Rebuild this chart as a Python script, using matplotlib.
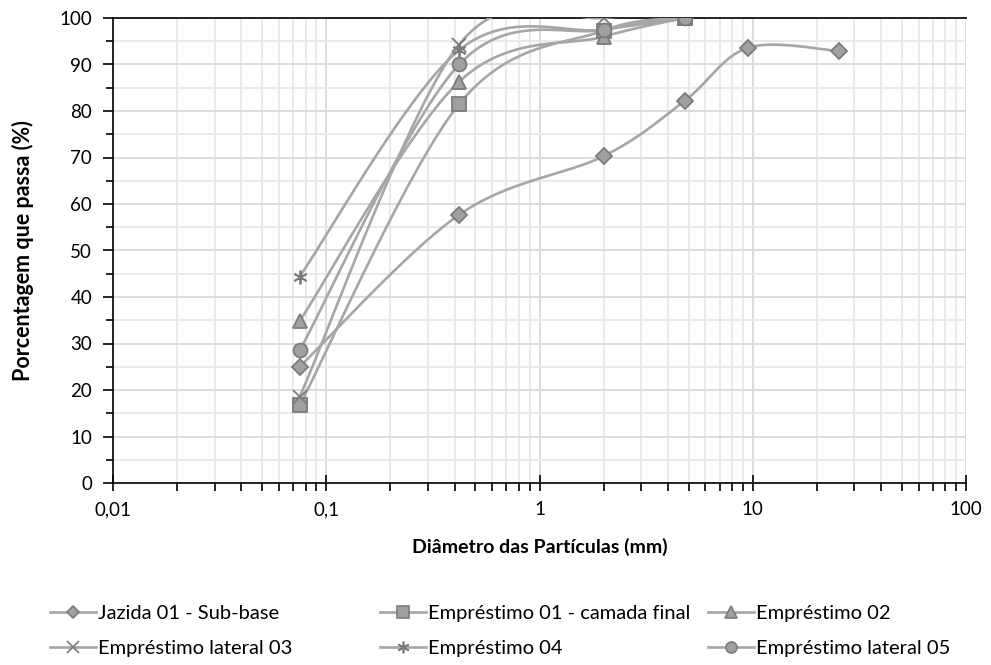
import numpy as np
import matplotlib.pyplot as plt
from matplotlib.lines import Line2D
from matplotlib.ticker import FixedLocator, LogLocator, FuncFormatter, MultipleLocator

plt.rcParams['font.family'] = ['Lato', 'DejaVu Sans']

# sieve openings (mm) and percent passing for each sample
sieves = [0.075, 0.42, 2.0, 4.8, 9.5, 25.4]

jazida_01 = [25.0, 57.7, 70.3, 82.2, 93.6, 92.9]
emprestimo_01 = [16.7, 81.5, 97.3, 100.0]
emprestimo_02 = [34.8, 86.3, 96.0, 100.0]
lateral_03 = [18.5, 94.3, 100.0, 100.0]
emprestimo_04 = [44.4, 93.1, 97.5, 100.0]
lateral_05 = [28.5, 90.0, 97.5, 100.0]

names = ['Jazida 01 - Sub-base', 'Empréstimo 01 - camada final', 'Empréstimo 02',
         'Empréstimo lateral 03', 'Empréstimo 04', 'Empréstimo lateral 05']
series = [jazida_01, emprestimo_01, emprestimo_02, lateral_03, emprestimo_04, lateral_05]
markers = ['D', 's', '^', 'x', (6, 2, 0), 'o']
msizes = [8, 10, 10, 10, 10, 10]

line_col = '#a6a6a6'
fill_col = '#a0a0a0'
edge_col = '#7b7b7b'


def smooth(xs, ys, n=40):
    # Excel-style smoothed line: Catmull-Rom bezier in (log10 x, y)
    lx = np.log10(xs)
    ys = np.asarray(ys, float)
    px = np.concatenate([[lx[0]], lx, [lx[-1]]])
    py = np.concatenate([[ys[0]], ys, [ys[-1]]])
    outx, outy = [], []
    t = np.linspace(0, 1, n)
    for i in range(1, len(px) - 2):
        x0, y0 = px[i], py[i]
        x3, y3 = px[i + 1], py[i + 1]
        x1 = x0 + (px[i + 1] - px[i - 1]) / 6
        y1 = y0 + (py[i + 1] - py[i - 1]) / 6
        x2 = x3 - (px[i + 2] - px[i]) / 6
        y2 = y3 - (py[i + 2] - py[i]) / 6
        bx = (1 - t) ** 3 * x0 + 3 * (1 - t) ** 2 * t * x1 + 3 * (1 - t) * t ** 2 * x2 + t ** 3 * x3
        by = (1 - t) ** 3 * y0 + 3 * (1 - t) ** 2 * t * y1 + 3 * (1 - t) * t ** 2 * y2 + t ** 3 * y3
        outx.append(bx)
        outy.append(by)
    return 10 ** np.concatenate(outx), np.concatenate(outy)


fig = plt.figure(figsize=(9.91, 6.65), dpi=100)
ax = fig.add_axes([113 / 991, 1 - 483 / 665, (966 - 113) / 991, (483 - 18) / 665])

for vals, mk, ms in zip(series, markers, msizes):
    xs = sieves[:len(vals)]
    sx, sy = smooth(xs, vals)
    ax.plot(sx, sy, color=line_col, lw=1.9, zorder=3, solid_capstyle='round')
    if mk == 'x' or isinstance(mk, tuple):
        ax.plot(xs, vals, ls='none', marker=mk, ms=ms, mew=1.3, color=edge_col, zorder=4)
    else:
        ax.plot(xs, vals, ls='none', marker=mk, ms=ms, mfc=fill_col, mec=edge_col, mew=1.3, zorder=4)

ax.set_xscale('log')
ax.set_xlim(0.01, 100)
ax.set_ylim(0, 100)

ax.xaxis.set_major_locator(FixedLocator([0.01, 0.1, 1, 10, 100]))
ax.xaxis.set_minor_locator(LogLocator(base=10, subs=np.arange(2, 10)))
ax.xaxis.set_major_formatter(FuncFormatter(lambda v, p: ('%g' % v).replace('.', ',')))
ax.xaxis.set_minor_formatter(FuncFormatter(lambda v, p: ''))
ax.yaxis.set_major_locator(MultipleLocator(10))
ax.yaxis.set_minor_locator(MultipleLocator(5))

ax.grid(True, which='major', color='#d9d9d9', lw=1.3, zorder=0)
ax.grid(True, which='minor', color='#e8e8e8', lw=1.3, zorder=0)
ax.set_axisbelow(True)

ax.spines['right'].set_visible(False)
for s in ('left', 'bottom', 'top'):
    ax.spines[s].set_color('black')
    ax.spines[s].set_linewidth(1.2)

ax.tick_params(axis='x', which='major', direction='inout', length=12, width=1.2, pad=7,
               labelsize=13.5, colors='black')
ax.tick_params(axis='x', which='minor', direction='out', length=6, width=1.2)
ax.tick_params(axis='y', which='major', direction='out', length=7, width=1.2, pad=8,
               labelsize=13.5, colors='black')
ax.tick_params(axis='y', which='minor', direction='out', length=5, width=1.2)

ax.set_xlabel('Diâmetro das Partículas (mm)', fontsize=14, fontweight='bold', labelpad=14)
ax.set_ylabel('Porcentagem que passa (%)', fontsize=15.5, fontweight='bold', labelpad=18)

# legend: two rows of three entries under the plot
cols = [50 / 991, 380 / 991, 708 / 991]
rows = [1 - 613 / 665, 1 - 648 / 665]
for i, (nm, mk, ms) in enumerate(zip(names, markers, msizes)):
    if mk == 'x' or isinstance(mk, tuple):
        h = Line2D([], [], color=line_col, lw=1.9, marker=mk, ms=ms * 0.85, mec=edge_col, mew=1.2)
    else:
        h = Line2D([], [], color=line_col, lw=1.9, marker=mk, ms=ms * 0.8, mfc=fill_col,
                   mec=edge_col, mew=1.2)
    fig.legend([h], [nm], loc='center left', bbox_to_anchor=(cols[i % 3], rows[i // 3]),
               frameon=False, fontsize=14.5, handlelength=2.3, handletextpad=0.1,
               borderpad=0, borderaxespad=0)

fig.savefig('out.png', dpi=100)
